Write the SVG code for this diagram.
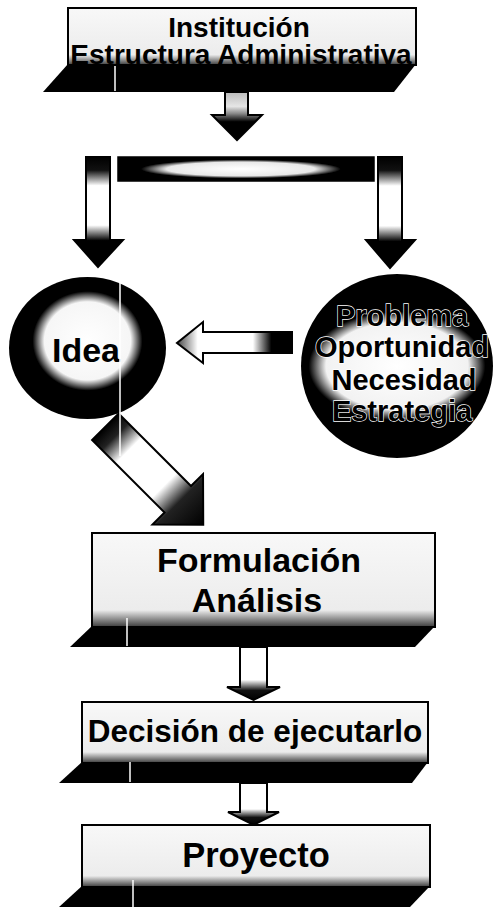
<svg xmlns="http://www.w3.org/2000/svg" width="493" height="907" viewBox="0 0 493 907">
  <style>
    .lbl { font-family: "Liberation Sans", Arial, "DejaVu Sans", sans-serif; font-weight: bold; fill: #000; text-anchor: middle; }
    .face { stroke: #000; stroke-width: 2; fill: url(#faceFill); }
    .base { fill: #000; }
    .arrow { stroke: #000; stroke-width: 2; stroke-linejoin: miter; }
    .halo { stroke: #fff; stroke-width: 1.3; paint-order: stroke; }
    .streak { stroke: #fff; stroke-width: 1.5; fill: none; }
  </style>
  <defs>
    <!-- box faces: white, darkening towards the bottom edge -->
    <linearGradient id="faceFill" x1="0" y1="0" x2="0" y2="1">
      <stop offset="0" stop-color="#f8f8f8"/>
      <stop offset="0.82" stop-color="#ececec"/>
      <stop offset="1" stop-color="#3a3a3a"/>
    </linearGradient>
    <!-- long down arrows under the bar -->
    <linearGradient id="vLong" x1="0" y1="0" x2="0" y2="1">
      <stop offset="0" stop-color="#000"/>
      <stop offset="0.12" stop-color="#111"/>
      <stop offset="0.26" stop-color="#fff"/>
      <stop offset="0.62" stop-color="#fff"/>
      <stop offset="0.76" stop-color="#000"/>
      <stop offset="1" stop-color="#000"/>
    </linearGradient>
    <!-- short down arrows -->
    <linearGradient id="vShort" x1="0" y1="0" x2="0" y2="1">
      <stop offset="0" stop-color="#fff"/>
      <stop offset="0.62" stop-color="#fff"/>
      <stop offset="0.82" stop-color="#111"/>
      <stop offset="1" stop-color="#000"/>
    </linearGradient>
    <linearGradient id="vTop" x1="0" y1="0" x2="0" y2="1">
      <stop offset="0" stop-color="#bbb"/>
      <stop offset="0.3" stop-color="#e6e6e6"/>
      <stop offset="0.45" stop-color="#888"/>
      <stop offset="0.62" stop-color="#000"/>
      <stop offset="1" stop-color="#000"/>
    </linearGradient>
    <!-- left-pointing arrow between the circles -->
    <linearGradient id="hArrow" x1="0" y1="0" x2="1" y2="0">
      <stop offset="0" stop-color="#444"/>
      <stop offset="0.18" stop-color="#fff"/>
      <stop offset="0.66" stop-color="#fff"/>
      <stop offset="0.82" stop-color="#000"/>
      <stop offset="1" stop-color="#000"/>
    </linearGradient>
    <!-- diagonal arrow, along its own axis -->
    <linearGradient id="dArrow" x1="0" y1="0" x2="1" y2="0">
      <stop offset="0" stop-color="#000"/>
      <stop offset="0.1" stop-color="#222"/>
      <stop offset="0.24" stop-color="#fff"/>
      <stop offset="0.6" stop-color="#fff"/>
      <stop offset="0.76" stop-color="#222"/>
      <stop offset="1" stop-color="#000"/>
    </linearGradient>
    <radialGradient id="barFill" cx="0.48" cy="0.5" r="0.5">
      <stop offset="0" stop-color="#fff"/>
      <stop offset="0.58" stop-color="#e8e8e8"/>
      <stop offset="0.78" stop-color="#000"/>
      <stop offset="1" stop-color="#000"/>
    </radialGradient>
    <radialGradient id="ideaFill" cx="0.5" cy="0.45" r="0.5">
      <stop offset="0" stop-color="#fff"/>
      <stop offset="0.55" stop-color="#f6f6f6"/>
      <stop offset="0.7" stop-color="#000"/>
      <stop offset="1" stop-color="#000"/>
    </radialGradient>
    <radialGradient id="causeFill" cx="0.5" cy="0.5" r="0.5" gradientTransform="translate(0.5,0.5) scale(1,0.64) translate(-0.5,-0.5)">
      <stop offset="0" stop-color="#fff"/>
      <stop offset="0.74" stop-color="#f2f2f2"/>
      <stop offset="0.92" stop-color="#000"/>
      <stop offset="1" stop-color="#000"/>
    </radialGradient>
  </defs>

  <!-- connectors -->
  <g id="connectors">
    <!-- institution to bar -->
    <path class="arrow" fill="url(#vTop)" d="M225,92 H248 V115 H262 L237,140 L212,115 H225 Z"/>
    <!-- distribution bar -->
    <rect x="118" y="157" width="256" height="24" fill="url(#barFill)" stroke="#000" stroke-width="1.5"/>
    <!-- bar down to Idea -->
    <path class="arrow" fill="url(#vLong)" d="M86,157 H110 V240 H123 L98,267 L74,240 H86 Z"/>
    <!-- bar down to the problem circle -->
    <path class="arrow" fill="url(#vLong)" d="M378,157 H402 V240 H415 L390,268 L366,240 H378 Z"/>
    <!-- problem circle to Idea -->
    <path class="arrow" fill="url(#hArrow)" d="M292,332 V353 H203 V363 L177,343 L203,322 V332 Z"/>
    <!-- Idea to Formulación -->
    <g transform="translate(105.3,426.8) rotate(45)">
      <path class="arrow" fill="url(#dArrow)" d="M0,-18.7 H102.5 V-35.7 L138.5,0 L102.5,35.7 V18.7 H0 Z"/>
    </g>
    <!-- Formulación to Decisión -->
    <path class="arrow" fill="url(#vShort)" d="M240,647 H267 V687 H280 L253.5,700 L227,687 H240 Z"/>
    <!-- Decisión to Proyecto -->
    <path class="arrow" fill="url(#vShort)" d="M240,783 H267 V812 H279 L253.5,825 L228,812 H240 Z"/>
  </g>

  <!-- Institución / Estructura Administrativa -->
  <g id="institucion">
    <polygon class="base" points="68,64 416,64 394,92 43,92"/>
    <rect class="face" x="68" y="8" width="348" height="57"/>
    <text class="lbl" x="239" y="37" font-size="28">Institución</text>
    <text class="lbl" x="241" y="64" font-size="28">Estructura Administrativa</text>
  </g>

  <!-- Idea -->
  <g id="idea">
    <ellipse cx="87.5" cy="348" rx="78.5" ry="71" fill="url(#ideaFill)"/>
    <text class="lbl" x="86" y="362" font-size="34">Idea</text>
  </g>

  <!-- Problema / Oportunidad / Necesidad / Estrategia -->
  <g id="origen">
    <ellipse cx="397" cy="366" rx="96" ry="92" fill="url(#causeFill)"/>
    <text class="lbl halo" x="402" y="326" font-size="29">Problema</text>
    <text class="lbl halo" x="402" y="357" font-size="29">Oportunidad</text>
    <text class="lbl halo" x="404" y="390" font-size="29">Necesidad</text>
    <text class="lbl halo" x="402" y="421" font-size="29">Estrategia</text>
  </g>

  <!-- Formulación / Análisis -->
  <g id="formulacion">
    <polygon class="base" points="92,626 435,626 415,647 70,647"/>
    <rect class="face" x="92" y="533" width="343" height="94"/>
    <text class="lbl" x="259" y="572" font-size="34">Formulación</text>
    <text class="lbl" x="257" y="612" font-size="34">Análisis</text>
  </g>

  <!-- Decisión de ejecutarlo -->
  <g id="decision">
    <polygon class="base" points="82,762 428,762 412,783 59,783"/>
    <rect class="face" x="82" y="702" width="346" height="61"/>
    <text class="lbl" x="255" y="742" font-size="31.5">Decisión de ejecutarlo</text>
  </g>

  <!-- Proyecto -->
  <g id="proyecto">
    <polygon class="base" points="82,886 430,886 410,907 59,907"/>
    <rect class="face" x="82" y="825" width="348" height="62"/>
    <text class="lbl" x="256" y="867" font-size="34.5">Proyecto</text>
  </g>

  <!-- thin light streaks across the dark areas -->
  <g id="streaks">
    <line class="streak" x1="115" y1="66" x2="115" y2="91"/>
    <line class="streak" x1="120" y1="282" x2="120" y2="456"/>
    <line class="streak" x1="127" y1="618" x2="127" y2="646"/>
    <line class="streak" x1="130" y1="762" x2="130" y2="782"/>
    <line class="streak" x1="133" y1="880" x2="133" y2="907"/>
  </g>
</svg>
